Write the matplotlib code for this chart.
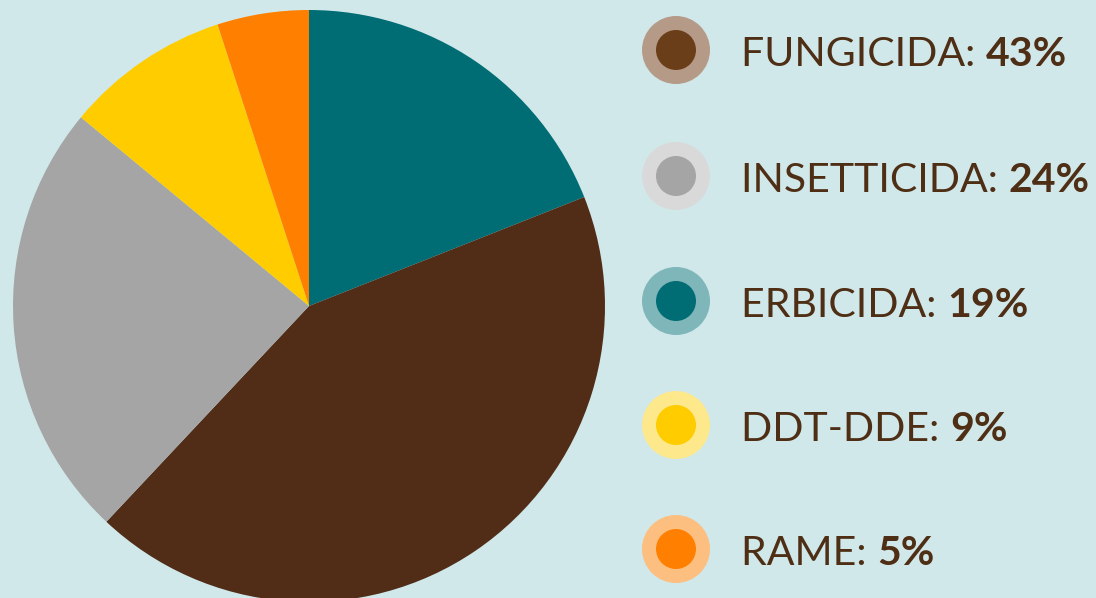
import matplotlib
matplotlib.use('Agg')
import matplotlib.pyplot as plt
from matplotlib.patches import Circle

# pesticide share by category
labels = ['FUNGICIDA', 'INSETTICIDA', 'ERBICIDA', 'DDT-DDE', 'RAME']
shares = [43, 24, 19, 9, 5]

# pie order goes clockwise from 12 o'clock
pie_order = ['ERBICIDA', 'FUNGICIDA', 'INSETTICIDA', 'DDT-DDE', 'RAME']

colors = {
    'FUNGICIDA': '#512d18',
    'INSETTICIDA': '#a5a5a5',
    'ERBICIDA': '#006d74',
    'DDT-DDE': '#ffcc00',
    'RAME': '#ff8000',
}
halo = {
    'FUNGICIDA': '#b59a88',
    'INSETTICIDA': '#d9d9d9',
    'ERBICIDA': '#7fb6b9',
    'DDT-DDE': '#fde98c',
    'RAME': '#fdbf80',
}
inner = {
    'FUNGICIDA': '#6b3e1a',
    'INSETTICIDA': '#a5a5a5',
    'ERBICIDA': '#006d74',
    'DDT-DDE': '#ffcc00',
    'RAME': '#ff8000',
}

bg = '#d0e8ea'
text_col = '#4e2e14'

W, H = 1096, 598
fig = plt.figure(figsize=(W / 100, H / 100), dpi=100)
fig.patch.set_facecolor(bg)

# pie, centred at (309, 306) px with radius 296 px
cx, cy, r = 309, 306, 296
ax = fig.add_axes([(cx - r) / W, (H - cy - r) / H, 2 * r / W, 2 * r / H])
vals = [shares[labels.index(k)] for k in pie_order]
ax.pie(vals, colors=[colors[k] for k in pie_order], startangle=90,
       counterclock=False, radius=1, wedgeprops=dict(linewidth=0))
ax.set_xlim(-1, 1)
ax.set_ylim(-1, 1)
ax.set_aspect('auto')
ax.axis('off')

# legend drawn in pixel coordinates
lg = fig.add_axes([0, 0, 1, 1])
lg.set_xlim(0, W)
lg.set_ylim(H, 0)
lg.axis('off')
lg.patch.set_alpha(0)

rows_y = [50, 176, 301, 425, 549]
for name, y in zip(labels, rows_y):
    lg.add_patch(Circle((676, y), 34, color=halo[name], lw=0))
    lg.add_patch(Circle((676, y), 20, color=inner[name], lw=0))
    v = shares[labels.index(name)]
    t = lg.text(741, y + 16, f'{name}: ', fontsize=29.5, family='Lato',
                color=text_col, va='baseline', ha='left')
    lg.annotate(f'{v}%', xycoords=t, xy=(1, 0), va='bottom', ha='left',
                fontsize=29.5, family='Lato', fontweight='bold', color=text_col)

fig.savefig('out.png', dpi=100, facecolor=bg)
